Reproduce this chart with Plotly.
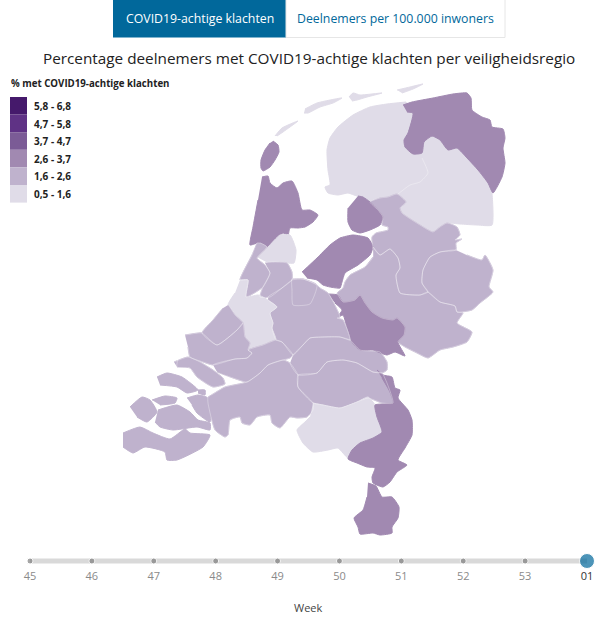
import plotly.graph_objects as go

# ---------- data ----------
weeks = ["45", "46", "47", "48", "49", "50", "51", "52", "53", "01"]
selected_week = "01"
legend_labels = ["5,8 - 6,8", "4,7 - 5,8", "3,7 - 4,7", "2,6 - 3,7", "1,6 - 2,6", "0,5 - 1,6"]
legend_colors = ["#45196b", "#5f3285", "#7b5b96", "#a189b1", "#bfb2cd", "#e0dce8"]
tabs = ["COVID19-achtige klachten", "Deelnemers per 100.000 inwoners"]
title_text = "Percentage deelnemers met COVID19-achtige klachten per veiligheidsregio"
legend_title = "% met COVID19-achtige klachten"

# legend class per region
region_class = {
    "Groningen": "2,6 - 3,7", "Fryslân": "0,5 - 1,6", "Drenthe": "0,5 - 1,6",
    "IJsselland": "1,6 - 2,6", "Twente": "1,6 - 2,6", "Noord- en Oost-Gelderland": "1,6 - 2,6",
    "Gelderland-Midden": "2,6 - 3,7", "Gelderland-Zuid": "1,6 - 2,6", "Flevoland": "2,6 - 3,7",
    "Noordoostpolder": "2,6 - 3,7", "Noord-Holland-Noord": "2,6 - 3,7", "Zaanstreek-Waterland": "0,5 - 1,6",
    "Kennemerland": "1,6 - 2,6", "Amsterdam-Amstelland": "1,6 - 2,6", "Gooi en Vechtstreek": "1,6 - 2,6",
    "Utrecht": "1,6 - 2,6", "Hollands Midden": "0,5 - 1,6", "Haaglanden": "1,6 - 2,6",
    "Rotterdam-Rijnmond": "1,6 - 2,6", "Zuid-Holland-Zuid": "1,6 - 2,6", "Zeeland": "1,6 - 2,6",
    "Midden- en West-Brabant": "1,6 - 2,6", "Brabant-Noord": "1,6 - 2,6", "Brabant-Zuidoost": "0,5 - 1,6",
    "Limburg-Noord": "2,6 - 3,7", "Limburg-Zuid": "2,6 - 3,7",
}

# region outlines (map outline geometry, traced in picture units)
outline_groningen = [(403,105),(412,102),(433,98),(453,94),(467,93),(471,98),(472,110),(482,117),(490,120),(492,127),(503,129),(505,138),(503,148),(505,163),(502,177),(493,193),(488,183),(478,170),(467,158),(457,148),(448,150),(440,140),(432,136),(424,142),(422,153),(413,154),(405,147),(404,140),(408,133),(413,113),(407,112)]
outline_friesland = [(406,102),(387,104),(370,107),(353,115),(338,127),(330,138),(327,150),(328,170),(330,185),(325,187),(328,193),(338,195),(348,193),(357,196),(365,197),(370,202),(380,198),(388,197),(397,194),(410,185),(420,182),(428,173),(428,158),(428,145),(420,125),(420,110),
    None,(305,109),(317,103),(342,98),(333,103),(320,107),(308,113),(304,113),
    None,(349,97),(353,93),(360,95),(382,93),(367,97),(357,100),(352,101),
    None,(397,90),(410,87),(423,84),(413,89),(402,93),
    None,(275,136),(282,128),(298,121),(290,127),(283,132),(277,136)]
outline_drenthe = [(418,146),(430,130),(442,134),(450,144),(459,142),(470,153),(481,165),(490,180),(492,193),(492,225),(477,225),(460,224),(447,223),(440,227),(433,232),(420,225),(412,220),(402,213),(400,208),(406,202),(398,194),(410,185),(420,182),(428,173),(422,158)]
outline_noordoostpolder = [(358,196),(363,197),(370,202),(378,210),(383,217),(380,225),(370,230),(360,233),(352,230),(348,222),(348,208)]
outline_nhn = [(262,177),(268,176),(270,183),(277,188),(283,183),(292,181),(298,193),(302,210),(310,210),(318,215),(313,222),(305,227),(298,228),(290,228),(288,235),(283,233),(275,242),(268,247),(258,243),(250,245),(253,227),(258,200),
    None,(273,141),(278,145),(279,152),(275,160),(270,167),(263,171),(261,168),(261,160),(265,150),(270,143)]
outline_zaanstreek = [(257,257),(268,247),(280,235),(290,235),(296,250),(294,263),(287,263),(268,263)]
outline_kennemerland = [(257,243),(252,255),(240,280),(248,280),(246,297),(263,287),(270,273),(265,265),(257,258),(267,247),(260,243)]
outline_amsterdam = [(265,263),(287,263),(292,272),(292,280),(282,288),(270,297),(260,297),(263,287),(270,273)]
outline_gooi = [(292,279),(303,279),(317,285),(310,304),(293,305),(292,290)]
outline_hollands_midden = [(240,280),(248,280),(246,297),(258,295),(263,297),(277,307),(270,313),(273,323),(272,328),(276,340),(263,345),(248,350),(250,343),(245,337),(243,323),(235,315),(228,305),(235,293)]
outline_utrecht = [(268,297),(282,288),(292,280),(303,279),(317,285),(320,288),(328,293),(340,317),(337,318),(343,320),(350,340),(340,337),(323,337),(310,338),(303,345),(293,355),(282,342),(276,340),(272,328),(273,323),(270,313),(277,307),(268,300)]
outline_flevoland = [(302,272),(317,258),(330,245),(340,238),(353,235),(368,238),(373,247),(370,255),(358,265),(345,273),(342,282),(340,288),(330,287),(323,285),(317,280),(307,278)]
outline_gelderland_midden = [(328,294),(338,295),(343,302),(355,300),(360,295),(365,303),(372,312),(382,318),(393,320),(397,318),(405,327),(404,335),(398,342),(405,356),(395,352),(387,355),(378,352),(373,350),(360,350),(352,342),(348,332),(343,315),(337,318),(342,310),(335,303)]
outline_ijsselland = [(370,202),(380,198),(388,197),(397,194),(406,202),(400,208),(402,213),(412,220),(420,225),(433,232),(440,227),(447,223),(457,227),(460,235),(455,240),(462,239),(456,243),(456,250),(440,252),(430,257),(423,270),(422,283),(428,292),(420,295),(400,293),(396,275),(400,268),(398,258),(390,249),(380,255),(373,247),(372,237),(376,233),(388,230),(388,227),(382,225),(383,217),(378,210)]
outline_twente = [(456,250),(440,252),(430,257),(423,270),(422,283),(428,292),(440,302),(455,306),(457,312),(472,310),(480,303),(493,292),(489,287),(493,270),(485,255),(482,260),(467,255)]
outline_nog = [(373,247),(380,255),(390,249),(398,258),(400,268),(396,275),(400,293),(420,295),(428,292),(440,302),(455,306),(457,312),(463,313),(457,323),(472,332),(467,342),(453,347),(440,350),(428,358),(417,353),(405,347),(398,342),(404,335),(405,327),(397,318),(393,320),(382,318),(372,312),(365,303),(360,295),(355,300),(343,302),(338,295),(337,293),(343,288),(345,282),(350,275),(365,267),(373,257)]
outline_haaglanden = [(228,305),(235,315),(243,323),(237,330),(217,345),(202,333),(213,320),(223,308)]
outline_rijnmond = [(185,335),(198,333),(202,333),(217,345),(237,330),(243,323),(245,337),(250,343),(248,350),(252,353),(247,358),(235,359),(213,365),(203,362),(190,357),(188,347),
    None,(174,362),(188,357),(200,362),(213,370),(223,378),(225,384),(213,387),(197,377),(190,368),(177,367)]
outline_zhz = [(213,365),(235,359),(247,358),(252,353),(248,350),(263,345),(276,340),(282,342),(293,355),(290,358),(283,360),(268,365),(260,373),(247,382),(233,378),(217,372)]
outline_zeeland = [(157,377),(167,373),(182,377),(198,390),(187,393),(177,387),(160,385),
    None,(198,390),(205,390),(205,395),(198,393),
    None,(152,400),(165,396),(177,398),(175,403),(160,405),
    None,(130,407),(142,397),(150,400),(157,412),(147,422),(137,417),
    None,(158,410),(177,405),(190,412),(198,420),(210,423),(210,430),(197,427),(173,430),(160,427),(155,422),
    None,(123,433),(140,427),(153,433),(170,439),(185,429),(190,433),(210,435),(203,447),(177,460),(167,460),(165,452),(145,447),(133,453),(123,447),
    None,(187,398),(198,395),(208,398),(210,422),(197,413),(192,405)]
outline_mwb = [(208,397),(213,394),(225,387),(247,382),(260,373),(268,365),(283,360),(290,363),(298,375),(298,387),(313,403),(313,410),(307,417),(297,418),(290,417),(280,428),(272,423),(270,415),(257,417),(250,425),(242,423),(240,417),(230,420),(228,435),(225,437),(215,430),(208,403)]
outline_brabant_noord = [(298,375),(317,373),(327,362),(343,360),(357,363),(373,372),(382,373),(393,403),(382,403),(368,398),(357,402),(340,408),(323,405),(313,403),(298,387)]
outline_gelderland_zuid = [(293,355),(303,345),(310,338),(323,337),(340,337),(350,340),(360,350),(380,352),(387,362),(387,370),(382,373),(373,372),(357,363),(343,360),(327,362),(317,373),(298,375),(290,363)]
outline_brabant_zo = [(313,403),(323,405),(340,408),(357,402),(368,397),(375,405),(377,417),(382,432),(373,438),(360,443),(352,450),(348,458),(338,448),(328,450),(313,452),(303,443),(297,430),(305,422),(310,417)]
outline_limburg_noord = [(377,370),(383,375),(392,377),(395,388),(400,390),(398,398),(408,410),(412,420),(412,435),(405,448),(398,460),(407,465),(397,472),(390,482),(383,487),(373,483),(372,477),(375,468),(367,467),(357,463),(348,459),(352,450),(360,443),(373,438),(382,432),(377,417),(375,405),(393,403),(390,392),(382,378)]
outline_limburg_zuid = [(368,483),(376,486),(382,497),(392,497),(399,507),(398,518),(392,527),(392,533),(380,535),(373,533),(360,534),(358,527),(354,518),(363,510),(367,497)]
border_fryslan_drenthe = [(398,194),(410,185),(420,182),(428,173),(422,158)]

outlines = {
    "Fryslân": outline_friesland, "Drenthe": outline_drenthe, "Groningen": outline_groningen,
    "IJsselland": outline_ijsselland, "Twente": outline_twente, "Noord- en Oost-Gelderland": outline_nog,
    "Gelderland-Zuid": outline_gelderland_zuid, "Gelderland-Midden": outline_gelderland_midden,
    "Flevoland": outline_flevoland, "Noordoostpolder": outline_noordoostpolder,
    "Noord-Holland-Noord": outline_nhn, "Zaanstreek-Waterland": outline_zaanstreek,
    "Utrecht": outline_utrecht, "Gooi en Vechtstreek": outline_gooi,
    "Kennemerland": outline_kennemerland, "Amsterdam-Amstelland": outline_amsterdam,
    "Hollands Midden": outline_hollands_midden,
    "Haaglanden": outline_haaglanden, "Rotterdam-Rijnmond": outline_rijnmond, "Zuid-Holland-Zuid": outline_zhz,
    "Zeeland": outline_zeeland, "Midden- en West-Brabant": outline_mwb, "Brabant-Noord": outline_brabant_noord,
    "Brabant-Zuidoost": outline_brabant_zo, "Limburg-Noord": outline_limburg_noord, "Limburg-Zuid": outline_limburg_zuid,
}

# ---------- figure ----------
W, H = 596, 617
FONT = "Open Sans"
BLUE = "#01689b"
SMOOTH = 0.5
BORDER = "rgba(255,255,255,0.45)"
SLIDER_LEFT, SLIDER_RIGHT = 30, 587
fig = go.Figure()


def split(pts):
    return [p[0] if p else None for p in pts], [p[1] if p else None for p in pts]


for name, pts in outlines.items():
    xs, ys = split(pts)
    color = legend_colors[legend_labels.index(region_class[name])]
    fig.add_trace(go.Scatter(x=xs, y=ys, mode="lines", fill="toself", fillcolor=color,
                             line=dict(color=color, width=1, shape="spline", smoothing=SMOOTH),
                             name=name, hoverinfo="name", showlegend=False))

# faint white borders between the regions of the middle class
for name, pts in outlines.items():
    if region_class[name] == "1,6 - 2,6" and name != "Zeeland":
        xs, ys = split(pts)
        fig.add_trace(go.Scatter(x=xs + xs[:1], y=ys + ys[:1], mode="lines",
                                 line=dict(color=BORDER, width=0.7, shape="spline", smoothing=SMOOTH),
                                 hoverinfo="skip", showlegend=False))
xs, ys = split(border_fryslan_drenthe)
fig.add_trace(go.Scatter(x=xs, y=ys, mode="lines",
                         line=dict(color=BORDER, width=0.7, shape="spline", smoothing=SMOOTH),
                         hoverinfo="skip", showlegend=False))

# week slider on its own axis, which overlays the main one
step = (SLIDER_RIGHT - SLIDER_LEFT) / (len(weeks) - 1)
fig.add_trace(go.Scatter(x=[0, len(weeks) - 1], y=[561, 561], xaxis="x2", mode="lines",
                         line=dict(color="#d9d9d9", width=5), hoverinfo="skip", showlegend=False))
fig.add_trace(go.Scatter(x=list(range(len(weeks))), y=[561] * len(weeks), xaxis="x2", mode="markers",
                         marker=dict(size=[15 if w == selected_week else 6 for w in weeks],
                                     color=[BLUE if w == selected_week else "#7f7f7f" for w in weeks]),
                         cliponaxis=False, hoverinfo="skip", showlegend=False))
fig.add_trace(go.Scatter(x=list(range(len(weeks))), y=[577] * len(weeks), xaxis="x2", mode="text",
                         text=weeks, textposition="middle center",
                         textfont=dict(family=FONT, size=11,
                                       color=["#333333" if w == selected_week else "#8a8a8a" for w in weeks]),
                         cliponaxis=False, hoverinfo="skip", showlegend=False))

shapes = [
    dict(type="rect", x0=113, x1=286, y0=-1, y1=37.5, fillcolor=BLUE, line=dict(width=0), xref="x", yref="y"),
    dict(type="rect", x0=286, x1=505, y0=-1, y1=37.5, fillcolor="white", line=dict(color="#e6e6e6", width=1), xref="x", yref="y"),
]
anns = [
    dict(x=199.5, y=18, text=tabs[0], font=dict(family=FONT, size=12.3, color="#ffffff")),
    dict(x=395, y=18, text=tabs[1], font=dict(family=FONT, size=12.3, color=BLUE)),
    dict(x=308.5, y=58, text=title_text, font=dict(family=FONT, size=15.3, color="#222222")),
    dict(x=9, y=83, text="<b>" + legend_title + "</b>", xanchor="left", font=dict(family=FONT, size=9.7, color="#222222")),
    dict(x=308.5, y=607, text="Week", font=dict(family=FONT, size=11, color="#444444")),
]
for i, (lab, col) in enumerate(zip(legend_labels, legend_colors)):
    y0 = 97 + i * 17.6
    shapes.append(dict(type="rect", x0=10, x1=27, y0=y0, y1=y0 + 17.6, fillcolor=col, line=dict(width=0), xref="x", yref="y"))
    anns.append(dict(x=32, y=y0 + 9, text="<b>" + lab + "</b>", xanchor="left",
                     font=dict(family=FONT, size=10, color="#222222")))
for a in anns:
    a.update(xref="x", yref="y", showarrow=False)

fig.update_layout(
    width=W, height=H, margin=dict(l=0, r=0, t=0, b=0),
    paper_bgcolor="white", plot_bgcolor="white", showlegend=False,
    xaxis=dict(range=[0, W], visible=False, fixedrange=True),
    yaxis=dict(range=[H, 0], visible=False, fixedrange=True),
    xaxis2=dict(range=[-SLIDER_LEFT / step, (W - SLIDER_LEFT) / step], overlaying="x", anchor="y",
                visible=False, fixedrange=True),
    shapes=shapes, annotations=anns,
)
fig.write_html("out.html", config={"displayModeBar": False},
               post_script="document.body.style.margin='0';document.documentElement.style.overflow='hidden';")
